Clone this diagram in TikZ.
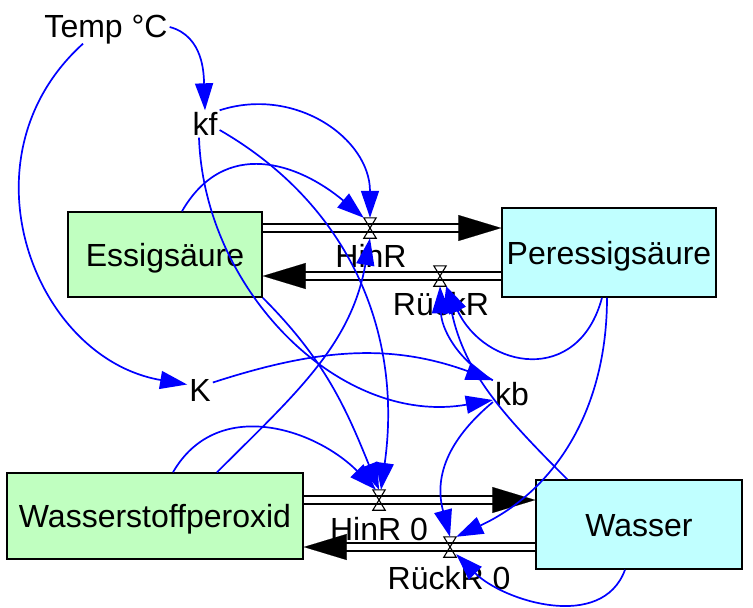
\documentclass[tikz,border=0pt]{standalone}
\usepackage{fontspec}
\setmainfont{Liberation Sans}
\usetikzlibrary{arrows.meta,calc}
\definecolor{stockgreen}{RGB}{192,255,192}
\definecolor{stockcyan}{RGB}{192,255,255}
\definecolor{linkblue}{RGB}{0,0,255}
\tikzset{
  lbl/.style={font=\fontsize{32}{34}\selectfont, text height=23pt, text depth=0pt, inner sep=2pt},
  stock/.style={lbl, draw=black, line width=1.5pt, inner sep=0pt},
  valvenode/.style={minimum width=12pt, minimum height=20pt, inner sep=0pt},
  valveshape/.style={line width=1.1pt},
  pipe/.style={line width=1.6pt, double=white, double distance=6.5pt, shorten >=20pt},
  flowhead/.style={white, line width=0.1pt, -{Triangle[length=43pt,width=26pt,color=black]}},
  link/.style={linkblue, line width=1.7pt, -{Triangle[length=27pt,width=18pt]}},
}
\begin{document}
\begin{tikzpicture}[x=1pt,y=-1pt]
\useasboundingbox (0,0) rectangle (753,608);

% stocks
\node[stock, fill=stockgreen, minimum width=194pt, minimum height=85pt] (essig) at (165,254.5) {Essigsäure};
\node[stock, fill=stockcyan, minimum width=214pt, minimum height=89pt] (peres) at (609,252.5) {Peressigsäure};
\node[stock, fill=stockgreen, minimum width=296pt, minimum height=86pt] (wsp) at (155,516) {Wasserstoffperoxid};
\node[stock, fill=stockcyan, minimum width=206pt, minimum height=89pt] (wasser) at (639,524.5) {Wasser};

% auxiliary variables
\node[lbl] (temp) at (106,26) {Temp °C};
\node[lbl] (kf) at (205,124) {kf};
\node[lbl] (K) at (200,389.5) {K};
\node[lbl] (kb) at (512,394) {kb};

% valves
\node[valvenode] (v1) at (370,228) {};
\node[valvenode] (v2) at (440,276) {};
\node[valvenode] (v3) at (379,500) {};
\node[valvenode] (v4) at (450,547) {};

% flows
\draw[pipe] (essig.east |- v1) -- (peres.west |- v1);
\draw[flowhead] (v1) -- (peres.west |- v1);
\draw[pipe] (peres.west |- v2) -- (essig.east |- v2);
\draw[flowhead] (v2) -- (essig.east |- v2);
\draw[pipe] (wsp.east |- v3) -- (wasser.west |- v3);
\draw[flowhead] (v3) -- (wasser.west |- v3);
\draw[pipe] (wasser.west |- v4) -- (wsp.east |- v4);
\draw[flowhead] (v4) -- (wsp.east |- v4);

\foreach \v in {v1,v2,v3,v4}
  \draw[valveshape] (\v.north west) -- (\v.north east) -- (\v.south west) -- (\v.south east) -- cycle;

% flow labels
\node[lbl] (l1) at (371,256) {HinR};
\node[lbl] (l2) at (441,304) {RückR};
\node[lbl] (l3) at (379,529) {HinR 0};
\node[lbl] (l4) at (449,577.5) {RückR 0};

% information links
\draw[link] ([yshift=-1pt]temp.east) to[out=-15,in=92] (kf.north);
\draw[link] ([xshift=-23pt,yshift=-4pt]temp.south) .. controls +(-126,114) and +(-153,-26) .. ([yshift=5pt]K.west);
\draw[link] (kf.north east) to[out=18,in=90,looseness=1.1] (v1.north);
\draw[link] ([yshift=-6pt]kf.east) to[out=-30,in=82] ([xshift=2pt]v3.north);
\draw[link] ([xshift=-6pt]kf.south) to[out=-88,in=190] ([yshift=-6pt]kb.west);
\draw[link] ([xshift=17pt]essig.north) to[out=60,in=140,looseness=1.2] (v1.north west);
\draw[link] (essig.south east) to[out=-45,in=112] (v3.north);
\draw[link] ([xshift=62pt]wsp.north) to[out=45,in=-100] (v1.south);
\draw[link] ([xshift=18pt]wsp.north) to[out=60,in=135,looseness=1.1] ([xshift=-3pt]v3.north);
\draw[link] ([yshift=7pt]K.east) to[out=18,in=160] (kb.north west);
\draw[link] (kb.north west) to[out=150,in=-88] (v2.south);
\draw[link] ([xshift=32pt]wasser.north west) to[out=135,in=-78] (v2.south east);
\draw[link] ([xshift=-7pt]peres.south) to[out=-105,in=-65,looseness=1.5] (v2.south east);
\draw[link] ([xshift=-2pt]peres.south) to[out=-90,in=25] (v4.north east);
\draw[link] ([yshift=-8pt]kb.west) to[out=-140,in=105,looseness=1.1] (v4.north);
\draw[link] ([xshift=-14pt]wasser.south) to[out=-110,in=-45] ([yshift=3pt]v4.south east);
\end{tikzpicture}
\end{document}
